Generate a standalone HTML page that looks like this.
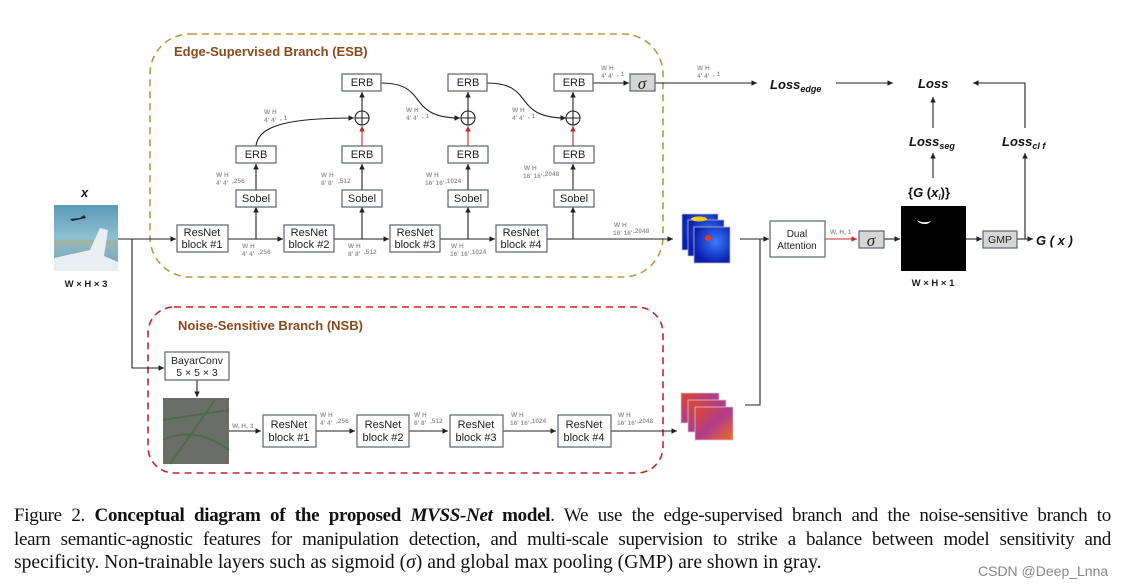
<!DOCTYPE html>
<html><head><meta charset="utf-8"><style>
html,body{margin:0;padding:0;background:#fff;width:1123px;height:588px;overflow:hidden;position:relative}
svg{position:absolute;left:0;top:0}
.cap{position:absolute;left:14px;width:1097px;font-family:"Liberation Serif",serif;font-size:19px;letter-spacing:-0.3px;color:#111;white-space:nowrap;text-align:justify;text-align-last:justify}
.wm{position:absolute;left:978px;top:563px;font-family:"Liberation Sans",sans-serif;font-size:14px;color:#888}
</style></head><body>
<svg width="1123" height="588" viewBox="0 0 1123 588" font-family="Liberation Sans, sans-serif">
<defs>
<marker id="a" markerWidth="6" markerHeight="6" refX="5" refY="3" orient="auto"><path d="M0,0.5 L5,3 L0,5.5z" fill="#222"/></marker>
<marker id="r" markerWidth="6" markerHeight="6" refX="5" refY="3" orient="auto"><path d="M0,0.5 L5,3 L0,5.5z" fill="#c0282d"/></marker>
<linearGradient id="sky" x1="0" y1="0" x2="0" y2="1"><stop offset="0" stop-color="#5a9ab8"/><stop offset="0.5" stop-color="#8fc0d0"/><stop offset="1" stop-color="#7a9fa8"/></linearGradient>
<radialGradient id="hm" cx="0.6" cy="0.4" r="0.6"><stop offset="0" stop-color="#3a7cff"/><stop offset="1" stop-color="#0a1fb0"/></radialGradient>
<linearGradient id="nm" x1="0" y1="0" x2="1" y2="1"><stop offset="0" stop-color="#e0482a"/><stop offset="0.5" stop-color="#b03c8c"/><stop offset="1" stop-color="#f06a22"/></linearGradient>
</defs>
<rect x="150" y="34" width="513" height="243" rx="40" fill="none" stroke="#b89a45" stroke-width="1.6" stroke-dasharray="7,5"/>
<text x="174" y="56" font-size="13" font-weight="bold" fill="#8a4a1c">Edge-Supervised Branch (ESB)</text>
<rect x="148" y="307" width="515" height="166" rx="26" fill="none" stroke="#c0282d" stroke-width="1.6" stroke-dasharray="7,5"/>
<text x="178" y="330" font-size="13" font-weight="bold" fill="#8a4a1c">Noise-Sensitive Branch (NSB)</text>

<g stroke="#222" stroke-width="1.1" fill="none">
<line x1="118" y1="239" x2="176" y2="239" marker-end="url(#a)"/>
<polyline points="132,239 132,368 164,368" marker-end="url(#a)"/>
<line x1="228" y1="239" x2="283" y2="239" marker-end="url(#a)"/>
<line x1="334" y1="239" x2="389" y2="239" marker-end="url(#a)"/>
<line x1="440" y1="239" x2="495" y2="239" marker-end="url(#a)"/>
<line x1="547" y1="239" x2="673" y2="239" marker-end="url(#a)"/>
<line x1="256" y1="239" x2="256" y2="207" marker-end="url(#a)"/>
<line x1="362" y1="239" x2="362" y2="207" marker-end="url(#a)"/>
<line x1="468" y1="239" x2="468" y2="207" marker-end="url(#a)"/>
<line x1="573" y1="239" x2="573" y2="207" marker-end="url(#a)"/>
<line x1="256" y1="190" x2="256" y2="164" marker-end="url(#a)"/>
<line x1="362" y1="190" x2="362" y2="164" marker-end="url(#a)"/>
<line x1="468" y1="190" x2="468" y2="164" marker-end="url(#a)"/>
<line x1="573" y1="190" x2="573" y2="164" marker-end="url(#a)"/>
<line x1="362" y1="111" x2="362" y2="92" marker-end="url(#a)"/>
<line x1="468" y1="111" x2="468" y2="92" marker-end="url(#a)"/>
<line x1="573" y1="111" x2="573" y2="92" marker-end="url(#a)"/>
<path d="M256,146 C258,125 290,118 354,118" marker-end="url(#a)"/>
<path d="M381,83 C430,83 405,118 460,118" marker-end="url(#a)"/>
<path d="M487,83 C536,83 511,118 566,118" marker-end="url(#a)"/>
<line x1="593" y1="83" x2="629" y2="83" marker-end="url(#a)"/>
<line x1="655" y1="83" x2="757" y2="83" marker-end="url(#a)"/>
<line x1="836" y1="83" x2="893" y2="83" marker-end="url(#a)"/>
<polyline points="1025,128 1025,83 973,83" marker-end="url(#a)"/>
<line x1="933" y1="128" x2="933" y2="97" marker-end="url(#a)"/>
<line x1="933" y1="178" x2="933" y2="153" marker-end="url(#a)"/>
<line x1="1025" y1="239" x2="1025" y2="153" marker-end="url(#a)"/>
<line x1="740" y1="239" x2="769" y2="239" marker-end="url(#a)"/>
<polyline points="760,239 760,405 745,405"/>
<line x1="884" y1="239" x2="900" y2="239" marker-end="url(#a)"/>
<line x1="966" y1="239" x2="982" y2="239" marker-end="url(#a)"/>
<line x1="1017" y1="239" x2="1033" y2="239" marker-end="url(#a)"/>
<line x1="197" y1="380" x2="197" y2="397" marker-end="url(#a)"/>
<line x1="229" y1="431" x2="261" y2="431" marker-end="url(#a)"/>
<line x1="316" y1="431" x2="355" y2="431" marker-end="url(#a)"/>
<line x1="409" y1="431" x2="448" y2="431" marker-end="url(#a)"/>
<line x1="503" y1="431" x2="556" y2="431" marker-end="url(#a)"/>
<line x1="611" y1="431" x2="677" y2="431" marker-end="url(#a)"/>
</g>
<g stroke="#c0282d" stroke-width="1.1">
<line x1="362" y1="146" x2="362" y2="126" marker-end="url(#r)"/>
<line x1="468" y1="146" x2="468" y2="126" marker-end="url(#r)"/>
<line x1="573" y1="146" x2="573" y2="126" marker-end="url(#r)"/>
<line x1="825" y1="239" x2="857" y2="239" marker-end="url(#r)"/>
</g>
<g stroke="#222" stroke-width="1.1" fill="#fff">
<circle cx="362" cy="118" r="7"/><circle cx="468" cy="118" r="7"/><circle cx="573" cy="118" r="7"/>
<path d="M355,118h14M362,111v14M461,118h14M468,111v14M566,118h14M573,111v14" fill="none"/>
</g>
<g stroke="#5a6470" stroke-width="1.2" fill="#fff">
<rect x="177" y="225" width="51" height="27"/><rect x="284" y="225" width="50" height="27"/>
<rect x="390" y="225" width="50" height="27"/><rect x="496" y="225" width="51" height="27"/>
<rect x="236" y="190" width="40" height="17"/><rect x="342" y="190" width="40" height="17"/>
<rect x="448" y="190" width="40" height="17"/><rect x="554" y="190" width="40" height="17"/>
<rect x="236" y="146" width="40" height="17"/><rect x="342" y="146" width="40" height="17"/>
<rect x="448" y="146" width="40" height="17"/><rect x="554" y="146" width="40" height="17"/>
<rect x="342" y="74" width="39" height="17"/><rect x="448" y="74" width="39" height="17"/><rect x="554" y="74" width="39" height="17"/>
<rect x="770" y="221" width="55" height="36"/>
<rect x="165" y="352" width="64" height="28"/>
<rect x="263" y="415" width="53" height="32"/><rect x="357" y="415" width="52" height="32"/>
<rect x="450" y="415" width="53" height="32"/><rect x="558" y="415" width="53" height="32"/>
</g>
<g stroke="#5a6470" stroke-width="1.2" fill="#d6d6d6">
<rect x="630" y="74" width="25" height="17"/><rect x="859" y="231" width="25" height="17"/><rect x="983" y="231" width="34" height="17"/>
</g>
<g font-size="11" fill="#222" text-anchor="middle">
<text x="202" y="236">ResNet</text><text x="202" y="248">block #1</text>
<text x="309" y="236">ResNet</text><text x="309" y="248">block #2</text>
<text x="415" y="236">ResNet</text><text x="415" y="248">block #3</text>
<text x="521" y="236">ResNet</text><text x="521" y="248">block #4</text>
<text x="256" y="202">Sobel</text><text x="362" y="202">Sobel</text><text x="468" y="202">Sobel</text><text x="574" y="202">Sobel</text>
<text x="256" y="158">ERB</text><text x="362" y="158">ERB</text><text x="468" y="158">ERB</text><text x="574" y="158">ERB</text>
<text x="362" y="86">ERB</text><text x="468" y="86">ERB</text><text x="574" y="86">ERB</text>
<text x="797" y="237" font-size="10">Dual</text><text x="797" y="249" font-size="10">Attention</text>
<text x="1000" y="243" font-size="10.5">GMP</text>
<text x="197" y="364" font-size="10.5">BayarConv</text><text x="197" y="376" font-size="10.5">5 × 5 × 3</text>
<text x="289" y="428">ResNet</text><text x="289" y="441">block #1</text>
<text x="383" y="428">ResNet</text><text x="383" y="441">block #2</text>
<text x="476" y="428">ResNet</text><text x="476" y="441">block #3</text>
<text x="584" y="428">ResNet</text><text x="584" y="441">block #4</text>
</g>
<g font-family="Liberation Serif, serif" font-style="italic" font-size="17" fill="#222" text-anchor="middle">
<text x="642" y="89">σ</text><text x="871" y="246">σ</text>
</g>
<g font-size="6.5" font-weight="bold" fill="#999">
<text x="216" y="177">W H</text><text x="216" y="185">4' 4'</text><text x="232" y="183">,256</text>
<text x="321" y="177">W H</text><text x="321" y="185">8' 8'</text><text x="338" y="183">,512</text>
<text x="426" y="177">W  H</text><text x="425" y="185">16' 16'</text><text x="445" y="183">,1024</text>
<text x="524" y="170">W  H</text><text x="523" y="178">16' 16'</text><text x="543" y="176">,2048</text>
<text x="264" y="114">W H</text><text x="264" y="122">4' 4'</text><text x="280" y="120">, 1</text>
<text x="406" y="112">W H</text><text x="406" y="120">4' 4'</text><text x="422" y="118">, 1</text>
<text x="512" y="112">W H</text><text x="512" y="120">4' 4'</text><text x="528" y="118">, 1</text>
<text x="601" y="70">W H</text><text x="601" y="78">4' 4'</text><text x="617" y="76">, 1</text>
<text x="697" y="70">W H</text><text x="697" y="78">4' 4'</text><text x="713" y="76">, 1</text>
<text x="242" y="248">W H</text><text x="242" y="256">4' 4'</text><text x="258" y="254">,256</text>
<text x="348" y="248">W H</text><text x="348" y="256">8' 8'</text><text x="364" y="254">,512</text>
<text x="451" y="248">W  H</text><text x="450" y="256">16' 16'</text><text x="470" y="254">,1024</text>
<text x="614" y="227">W  H</text><text x="613" y="235">16' 16'</text><text x="633" y="233">,2048</text>
<text x="320" y="417">W H</text><text x="320" y="425">4' 4'</text><text x="336" y="423">,256</text>
<text x="414" y="417">W H</text><text x="414" y="425">8' 8'</text><text x="430" y="423">,512</text>
<text x="511" y="417">W  H</text><text x="510" y="425">16' 16'</text><text x="530" y="423">,1024</text>
<text x="618" y="417">W  H</text><text x="617" y="425">16' 16'</text><text x="637" y="423">,2048</text>
<text x="232" y="428">W, H, 3</text>
<text x="830" y="234">W, H, 1</text>
</g>
<g font-weight="bold" font-style="italic" fill="#111">
<text x="770" y="89" font-size="13">Loss<tspan font-size="9" dy="3">edge</tspan></text>
<text x="918" y="88" font-size="13">Loss</text>
<text x="909" y="146" font-size="13">Loss<tspan font-size="9" dy="3">seg</tspan></text>
<text x="1002" y="146" font-size="13">Loss<tspan font-size="9" dy="3">cl f</tspan></text>
<text x="908" y="197" font-size="13" font-style="normal">{<tspan font-style="italic">G</tspan> (<tspan font-style="italic">x<tspan font-size="8" dy="3">i</tspan></tspan><tspan dy="-3">)}</tspan></text>
<text x="1036" y="245" font-size="13">G ( x )</text>
<text x="81" y="197" font-size="13">x</text>
</g>
<g font-size="9.5" font-weight="bold" fill="#222" text-anchor="middle">
<text x="86" y="287">W × H × 3</text><text x="933" y="286">W × H × 1</text>
</g>
<rect x="54" y="205" width="64" height="66" fill="url(#sky)"/>
<rect x="54" y="240" width="64" height="6" fill="#9db4a8"/>
<path d="M54,271 L54,258 L90,250 L100,228 L108,230 L104,256 L118,262 L118,271z" fill="#e8eef2"/>
<path d="M70,219 l10,-1 l4,-3 l2,3 l-14,3z" fill="#223"/>
<rect x="901" y="206" width="65" height="65" fill="#000"/>
<path d="M917,220 q6,4 14,1 q-2,3 -6,3 q-6,0 -8,-4z" fill="#fff"/>
<g stroke="#bbb" stroke-width="0.8">
<rect x="682" y="214" width="36" height="36" fill="url(#hm)"/>
<rect x="688" y="220" width="36" height="36" fill="url(#hm)"/>
<rect x="694" y="227" width="36" height="36" fill="url(#hm)"/>
</g>
<ellipse cx="699" cy="219" rx="8" ry="2.5" fill="#ffcc00"/><circle cx="708" cy="238" r="3" fill="#ff3300"/>
<g stroke="#ccc" stroke-width="0.8">
<rect x="681" y="393" width="38" height="30" fill="url(#nm)"/>
<rect x="688" y="400" width="38" height="32" fill="url(#nm)"/>
<rect x="695" y="407" width="38" height="33" fill="url(#nm)"/>
</g>
<rect x="163" y="398" width="66" height="66" fill="#6b6e68"/>
<path d="M163,420 L229,410 M163,440 Q195,425 229,450 M170,464 L215,400" stroke="#4d6a4a" stroke-width="2" fill="none"/>
</svg>
<div class="cap" style="top:505px">Figure 2. <b>Conceptual diagram of the proposed <i>MVSS-Net</i> model</b>. We use the edge-supervised branch and the noise-sensitive branch to</div>
<div class="cap" style="top:529px">learn semantic-agnostic features for manipulation detection, and multi-scale supervision to strike a balance between model sensitivity and</div>
<div class="cap" style="top:552px;text-align-last:left;width:auto;letter-spacing:0;font-size:19.6px">specificity. Non-trainable layers such as sigmoid (<i>σ</i>) and global max pooling (GMP) are shown in gray.</div>
<div class="wm">CSDN @Deep_Lnna</div>
</body></html>
